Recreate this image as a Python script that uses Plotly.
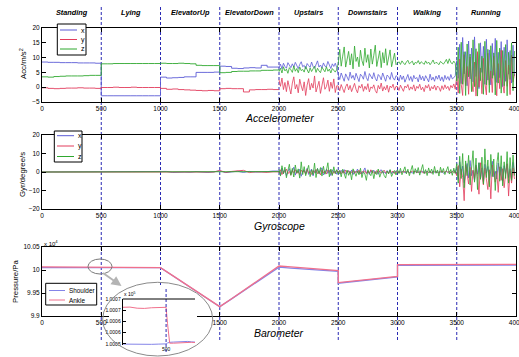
import numpy as np
import plotly.graph_objects as go

W, H = 519, 357
FONT = "Liberation Sans, Arial, sans-serif"

# ---------------- categories / axes ----------------
ACTIVITIES = ["Standing", "Lying", "ElevatorUp", "ElevatorDown",
              "Upstairs", "Downstairs", "Walking", "Running"]
SEG_LEN = 500
BOUNDARIES = [500, 1000, 1500, 2000, 2500, 3000, 3500]
X_TICKS = [0, 500, 1000, 1500, 2000, 2500, 3000, 3500, 4000]
ACC_TICKS = [-5, 0, 5, 10, 15, 20]
GYR_TICKS = [-20, -10, 0, 10, 20]
BARO_TICKS = [9.9, 9.95, 10.0, 10.05]
BARO_TICKTEXT = ["9.9", "9.95", "10", "10.05"]

# ---------------- accelerometer, static part (0-2000, every 50 samples) ----------------
STATIC_STEP = 50
ACC_X_STATIC = [8.5, 8.4, 8.4, 8.3, 8.3, 8.3, 8.2, 8.2, 8.2, 8.1,
                -2.9, -2.9, -2.9, -2.9, -2.9, -2.9, -2.9, -2.9, -2.9, -2.9,
                3.4, 3.1, 3.2, 3.3, 3.5, 3.5, 5.0, 5.0, 5.0, 5.1,
                7.1, 7.0, 6.4, 6.3, 6.5, 6.6, 6.5, 7.4, 6.8, 6.8]
ACC_Y_STATIC = [-0.2, -0.4, -0.5, -0.4, -0.3, -0.3, -0.2, -0.3, -0.3, -0.4,
                -0.1, -0.1, 0.0, -0.1, -0.1, 0.0, -0.1, -0.1, -0.1, -0.1,
                -0.4, -0.7, -0.6, -0.8, -0.9, -1.0, -1.1, -1.2, -1.1, -1.2,
                -0.5, -0.4, -0.5, -0.5, -1.6, -0.9, -0.8, -0.8, -0.7, -0.8]
ACC_Z_STATIC = [3.5, 3.4, 3.6, 3.7, 3.8, 3.8, 3.8, 3.9, 4.0, 4.0,
                7.9, 7.9, 8.0, 8.0, 8.0, 8.0, 8.0, 8.0, 8.0, 8.0,
                8.1, 8.0, 8.0, 8.1, 8.0, 7.9, 7.4, 7.3, 7.3, 7.3,
                4.9, 5.0, 5.3, 5.4, 5.4, 5.5, 5.5, 5.7, 5.7, 5.8]

# ---------------- accelerometer, dynamic part (2000-4000, every 12.5 samples) ----------------
DYN_STEP = 12.5
ACC_X_UP = [6.5, 7.8, 6.2, 8.1, 7.0, 6.4, 8.3, 7.2, 6.6, 7.9, 6.8, 8.4, 7.1, 6.3, 7.7, 8.6, 6.9, 7.4, 6.2, 8.0,
            7.3, 6.7, 8.5, 7.0, 6.4, 7.8, 8.9, 6.8, 7.5, 6.5, 8.2, 7.1, 6.9, 8.7, 7.4, 6.3, 7.9, 7.0, 8.1, 6.6]
ACC_Y_UP = [2.5, 0.3, 3.1, -0.8, 1.6, -1.5, 2.2, 0.1, -2.3, 1.4, 3.5, -0.6, 0.9, -1.9, 2.7, 0.4, -1.2, 1.8, -2.8, 0.7,
            2.9, -0.9, 1.3, -0.3, 3.8, -1.6, 0.6, 2.0, -2.1, 1.1, 3.2, -0.7, 0.2, 2.4, -1.4, 1.7, -0.4, 2.8, -1.8, 0.5]
ACC_Z_UP = [5.2, 6.4, 4.8, 6.9, 5.5, 6.1, 4.7, 6.6, 5.9, 5.0, 7.2, 5.4, 6.3, 4.9, 6.8, 5.6, 6.0, 5.1, 7.0, 5.7,
            4.8, 6.5, 5.3, 6.2, 7.1, 5.0, 6.4, 5.5, 4.9, 6.7, 5.8, 5.2, 6.9, 5.4, 6.1, 4.8, 6.3, 5.7, 5.1, 6.0]
ACC_X_DOWN = [4.2, 2.6, 4.8, 3.1, 2.0, 4.5, 3.6, 2.3, 5.1, 3.0, 4.0, 2.4, 4.7, 3.3, 1.9, 4.4, 3.8, 2.7, 5.3, 3.2,
              2.2, 4.6, 3.5, 2.8, 4.9, 3.0, 2.1, 4.3, 3.7, 2.5, 4.8, 3.4, 2.0, 4.1, 3.6, 2.6, 5.0, 3.1, 2.4, 3.9]
ACC_Y_DOWN = [0.4, -1.2, 0.9, -0.5, -1.8, 0.2, 1.1, -0.9, 0.6, -1.5, 0.0, 1.3, -0.7, -1.9, 0.5, -0.3, 1.0, -1.4, 0.3, -0.8,
              1.2, -1.6, 0.1, -0.4, 0.8, -1.1, -2.0, 0.6, -0.6, 1.4, -1.3, 0.2, -0.9, 0.7, -1.7, 0.4, -0.2, 1.0, -1.0, 0.3]
ACC_Z_DOWN = [8.0, 12.8, 7.1, 10.5, 13.6, 6.8, 9.4, 12.1, 7.5, 11.3, 6.2, 13.9, 8.7, 10.2, 6.9, 12.5, 9.0, 7.3, 13.2, 8.4,
              11.0, 6.5, 12.9, 7.8, 10.8, 14.2, 7.0, 9.6, 12.3, 6.6, 11.7, 8.2, 13.0, 7.4, 10.1, 12.6, 6.9, 9.8, 11.5, 7.6]
ACC_X_WALK = [3.5, 2.0, 4.1, 2.6, 3.8, 1.7, 3.2, 4.3, 2.3, 3.6, 1.9, 4.0, 2.8, 3.3, 1.8, 4.2, 2.5, 3.7, 2.1, 3.9,
              2.9, 1.8, 4.4, 2.4, 3.4, 2.0, 3.8, 2.7, 4.1, 2.2, 3.5, 1.9, 4.0, 2.6, 3.6, 2.3, 4.3, 2.8, 3.2, 3.9]
ACC_Y_WALK = [0.2, -1.1, 0.7, -0.5, -1.4, 0.4, -0.2, 0.9, -1.0, 0.1, -0.7, 0.8, -1.3, 0.3, -0.4, 1.0, -0.9, 0.0, -1.5, 0.6,
              -0.3, 0.9, -1.2, 0.2, -0.6, 0.7, -1.0, 0.4, -0.1, -1.4, 0.5, -0.8, 0.8, -0.5, 0.3, -1.1, 0.6, -0.2, 1.1, -0.7]
ACC_Z_WALK = [8.0, 8.6, 7.7, 8.9, 8.2, 7.6, 8.5, 9.1, 7.9, 8.3, 8.8, 7.5, 8.4, 8.1, 9.0, 7.8, 8.6, 8.2, 7.7, 8.9,
              8.0, 8.5, 7.6, 8.3, 9.2, 7.9, 8.4, 8.1, 7.6, 8.7, 8.2, 7.8, 8.5, 9.4, 8.0, 9.6, 8.3, 7.9, 8.8, 8.1]
ACC_X_RUN = [9.0, 3.0, 14.5, 1.2, 16.8, 4.5, 12.0, 0.5, 15.6, 2.8, 13.2, 1.8, 17.0, 3.6, 11.5, -0.5, 15.0, 5.0, 13.8, 1.0,
             16.2, 2.4, 12.6, 0.8, 14.8, 4.0, 16.5, 1.6, 11.8, 3.2, 15.4, 0.2, 13.5, 2.0, 16.0, 4.4, 12.4, 1.4, 14.2, 3.8]
ACC_Y_RUN = [4.0, -2.0, 9.5, 1.0, -2.8, 11.0, 0.5, 7.0, -2.4, 10.2, 2.0, -1.5, 8.5, -3.0, 12.0, 0.0, 6.5, -2.2, 9.8, 1.5,
             -2.6, 11.5, 0.8, 5.5, -1.8, 10.5, 2.5, -2.9, 8.0, -0.5, 12.5, 1.2, -2.0, 9.0, 0.3, 7.5, -2.5, 10.8, 1.8, 4.5]
ACC_Z_RUN = [2.0, 13.5, -2.1, 15.2, 1.0, 12.0, -2.8, 14.6, 3.5, 11.2, -1.5, 16.0, 0.2, 13.0, -3.0, 14.8, 2.2, 10.5, -2.4, 15.5,
             0.8, 12.8, -1.8, 14.0, 3.0, 11.6, -2.6, 15.8, 1.4, 13.2, -2.0, 12.4, 0.5, 14.4, -2.9, 11.8, 2.6, 15.0, -1.2, 12.2]

# ---------------- gyroscope ----------------
GYR_X_STATIC = [0.0] * 20 + [0.0, 0.3, -0.2, 0.1, 0.0, -0.1, 0.2, 0.0, -0.2, 0.1,
                             0.6, -0.3, 0.2, 0.4, -0.2, 0.3, 0.0, -0.1, 0.2, 0.5]
GYR_Y_STATIC = [0.0] * 20 + [0.0, -0.1, 0.1, 0.0, 0.1, -0.1, 0.0, 0.1, -0.1, 0.0,
                             0.8, -0.2, 0.3, 0.6, 0.9, -0.3, 0.1, 0.0, -0.2, 0.1]
GYR_Z_STATIC = [0.0] * 20 + [0.0, 0.1, 0.0, 0.0, -0.1, 0.0, 0.1, 0.0, 0.0, 0.1,
                             0.0, 0.2, 0.1, -0.1, 0.2, 0.0, 0.1, 0.0, 0.3, 0.2]
GYR_X_UP = [0.8, -1.5, 2.1, -0.6, 1.2, -2.0, 0.4, 1.8, -1.1, 0.2, 2.6, -1.7, 0.9, -0.4, 1.5, -2.3, 0.6, 1.1, -0.9, 2.0,
            -1.3, 0.3, 1.6, -2.1, 0.7, -0.5, 1.9, -1.0, 0.5, 2.3, -1.6, 0.1, 1.4, -0.8, 0.9, -1.9, 1.2, -0.3, 0.6, -1.2]
GYR_Y_UP = [-0.5, 1.2, -1.4, 0.6, -0.2, 1.6, -1.0, 0.3, -1.7, 0.9, -0.4, 1.3, -0.8, 0.5, -1.5, 1.0, -0.1, 0.7, -1.2, 1.5,
            -0.6, 0.2, -1.3, 0.8, -0.3, 1.4, -0.9, 0.4, -1.6, 1.1, -0.5, 0.6, -1.1, 1.2, -0.2, 0.9, -1.4, 0.3, -0.7, 1.0]
GYR_Z_UP = [1.5, -2.2, 3.4, -1.0, 2.6, -3.1, 0.8, 4.2, -1.8, 2.0, -2.7, 3.8, -0.6, 1.7, -3.3, 5.5, -1.4, 2.9, -2.0, 0.5,
            3.6, -2.5, 1.2, -1.5, 4.8, -3.0, 1.9, -0.8, 2.4, -2.2, 3.1, -1.2, 0.9, 5.0, -2.6, 1.6, -1.9, 2.8, -0.9, 1.3]
GYR_X_DOWN = [0.6, -1.0, 0.9, -0.4, 1.3, -1.2, 0.2, 0.8, -0.7, 1.1, -1.4, 0.5, -0.2, 1.6, -0.9, 0.3, -1.1, 0.7, 2.2, -0.6,
              0.4, -1.3, 0.9, -0.3, 1.0, -0.8, 0.2, -1.2, 0.6, 1.2, -0.5, 0.1, -0.9, 0.8, -0.4, 1.1, -1.0, 0.3, -0.6, 0.7]
GYR_Y_DOWN = [-0.4, 0.8, -1.0, 0.5, -0.7, 1.1, -0.3, 0.6, -1.2, 0.2, 0.9, -0.8, 0.4, -0.5, 1.0, -1.1, 0.3, -0.2, 0.7, -0.9,
              0.5, -0.6, 1.2, -0.4, 0.1, -1.0, 0.8, -0.3, 0.6, -0.7, 0.2, 1.0, -0.5, 0.4, -0.9, 0.7, -0.2, 0.5, -0.8, 0.3]
GYR_Z_DOWN = [-1.2, 0.8, -2.6, 1.5, -0.5, -3.4, 1.0, -1.8, 0.4, -4.2, 1.7, -0.9, -2.3, 0.6, -1.5, 2.0, -3.0, 0.2, -1.1, -4.5,
              1.2, -0.7, -2.0, 0.9, -3.6, 0.3, -1.4, 1.6, -2.8, -0.4, 0.7, -1.9, -3.2, 0.5, -1.0, 1.3, -2.4, -0.6, 0.8, -1.6]
GYR_X_WALK = [0.3, -0.6, 0.5, -0.2, 0.7, -0.5, 0.1, 0.6, -0.4, 0.2, -0.7, 0.4, -0.1, 0.8, -0.5, 0.3, -0.3, 0.6, -0.6, 0.2,
              0.5, -0.4, 0.1, -0.6, 0.7, -0.2, 0.4, -0.5, 0.3, -0.1, 0.6, -0.7, 0.2, 0.5, -0.3, 0.4, -0.6, 0.1, 0.8, -0.4]
GYR_Y_WALK = [-0.3, 0.4, -0.6, 0.2, -0.1, 0.5, -0.4, 0.3, -0.7, 0.1, 0.6, -0.2, 0.4, -0.5, 0.2, -0.3, 0.7, -0.4, 0.1, -0.6,
              0.3, -0.2, 0.5, -0.5, 0.2, 0.4, -0.3, 0.1, -0.6, 0.5, -0.1, 0.3, -0.4, 0.6, -0.2, 0.2, -0.5, 0.4, -0.3, 0.1]
GYR_Z_WALK = [1.2, -0.8, 2.0, -1.5, 0.6, 2.8, -1.0, 1.5, -2.0, 0.9, 3.5, -1.2, 1.8, -0.5, 2.4, -1.7, 0.7, 4.0, -0.9, 1.3,
              -1.9, 2.2, -0.6, 1.6, -1.3, 3.0, -0.7, 1.1, -2.2, 2.6, -0.4, 1.9, -1.4, 0.8, 2.9, -1.1, 1.4, -1.8, 2.1, -0.8]
GYR_X_RUN = [2.5, -4.0, 5.5, -1.5, 3.2, -5.8, 1.0, 4.6, -3.2, 6.2, -2.0, 0.8, -4.8, 3.8, -1.2, 5.0, -3.6, 2.2, -5.2, 4.2,
             -0.6, 3.0, -4.4, 1.6, 5.8, -2.6, 0.4, -3.8, 4.8, -1.8, 2.8, -5.0, 3.4, -0.9, 4.4, -3.0, 1.8, -4.2, 5.2, -1.4]
GYR_Y_RUN = [-2.0, 3.5, -8.0, 1.5, -3.0, -15.5, 4.0, -1.0, -6.5, 2.5, -10.5, 1.0, -4.0, 3.0, -2.5, -12.0, 5.0, -1.5, -7.0, 2.0,
             -3.5, -9.5, 1.2, -14.5, 3.8, -2.2, -5.5, 0.5, -11.0, 2.8, -4.5, 1.8, -8.5, -1.0, 4.5, -13.0, 0.8, -6.0, 2.2, -3.8]
GYR_Z_RUN = [4.5, -6.0, 8.5, -3.5, 10.0, -8.5, 6.0, -2.0, 9.0, -7.0, 3.0, 11.5, -5.5, 7.5, -9.5, 5.0, -4.0, 8.0, -6.5, 12.5,
             -3.0, 6.5, -8.0, 9.5, -2.5, 7.0, -10.0, 4.0, 10.5, -5.0, 8.8, -7.5, 5.5, -3.5, 11.0, -6.0, 7.8, -4.5, 9.2, -2.0]

# ---------------- barometer (x 10^4 Pa) ----------------
BARO_T = [0, 100, 200, 300, 400, 500, 500, 600, 700, 800, 900, 1000, 1100, 1200, 1300, 1400, 1500,
          1600, 1700, 1800, 1900, 2000, 2100, 2200, 2300, 2400, 2500, 2500, 2600, 2700, 2800, 2900,
          3000, 3000, 3100, 3200, 3300, 3400, 3500, 3600, 3700, 3800, 3900, 4000]
BARO_SHOULDER = [10.0050, 10.0050, 10.0049, 10.0050, 10.0050, 10.0050, 10.0051, 10.0051, 10.0052, 10.0052,
                 10.0051, 10.0052, 9.9882, 9.9712, 9.9543, 9.9373, 9.9200, 9.9372, 9.9545, 9.9718, 9.9890,
                 10.0062, 10.0042, 10.0024, 10.0006, 9.9988, 9.9972, 9.9712, 9.9740, 9.9768, 9.9795, 9.9822,
                 9.9848, 10.0102, 10.0104, 10.0106, 10.0108, 10.0109, 10.0110, 10.0110, 10.0109, 10.0108,
                 10.0107, 10.0106]
BARO_ANKLE = [10.0066, 10.0066, 10.0065, 10.0066, 10.0066, 10.0066, 10.0051, 10.0051, 10.0052, 10.0052,
              10.0052, 10.0052, 9.9884, 9.9714, 9.9545, 9.9375, 9.9203, 9.9376, 9.9550, 9.9724, 9.9897,
              10.0086, 10.0066, 10.0046, 10.0026, 10.0006, 9.9987, 9.9727, 9.9754, 9.9781, 9.9808, 9.9834,
              9.9860, 10.0118, 10.0120, 10.0122, 10.0124, 10.0125, 10.0127, 10.0127, 10.0126, 10.0125,
              10.0124, 10.0123]

# inset (x 10^5 Pa)
INSET_T = [440, 450, 460, 470, 480, 490, 500, 502, 505, 510, 515, 520, 525, 530, 535, 540]
INSET_SHOULDER = [1.000499, 1.000498, 1.000497, 1.000497, 1.000498, 1.000499, 1.000500, 1.000504,
                  1.000507, 1.000508, 1.000509, 1.000511, 1.000513, 1.000511, 1.000509, 1.000508]
INSET_ANKLE = [1.000663, 1.000664, 1.000659, 1.000658, 1.000661, 1.000663, 1.000663, 1.000590,
               1.000503, 1.000503, 1.000504, 1.000505, 1.000507, 1.000508, 1.000507, 1.000506]
INSET_TICKS = [1.0005, 1.00055, 1.0006, 1.00065, 1.0007]
INSET_TICKTEXT = ["1.0005", "1.0006", "1.0006", "1.0007", "1.0007"]
INSET_XTICKS = [500]

# ---------------- styles ----------------
C_X, C_Y, C_Z = "#5b5bd6", "#e23c5c", "#2fa82f"
C_SH, C_AN = "#8484e8", "#f0708c"
C_DASH = "#2a2ab4"


def px(x):
    return x / W


def py(y):
    return 1 - y / H


t_static = np.arange(0, 2001, STATIC_STEP)
t_dyn = 2000 + np.arange(4 * 40) * DYN_STEP

fig = go.Figure()


def add_sensor(static_lists, dyn_lists, xa, ya, shape_static):
    for s, c in zip(static_lists, [C_X, C_Y, C_Z]):
        fig.add_trace(go.Scatter(x=t_static, y=list(s) + [s[-1]], mode="lines",
                                 line=dict(color=c, width=0.9, shape=shape_static),
                                 xaxis=xa, yaxis=ya, showlegend=False, hoverinfo="skip"))
    for d, c in zip(dyn_lists, [C_X, C_Y, C_Z]):
        fig.add_trace(go.Scatter(x=t_dyn, y=d, mode="lines", line=dict(color=c, width=0.8),
                                 xaxis=xa, yaxis=ya, showlegend=False, hoverinfo="skip"))


add_sensor([ACC_X_STATIC, ACC_Y_STATIC, ACC_Z_STATIC],
           [ACC_X_UP + ACC_X_DOWN + ACC_X_WALK + ACC_X_RUN,
            ACC_Y_UP + ACC_Y_DOWN + ACC_Y_WALK + ACC_Y_RUN,
            ACC_Z_UP + ACC_Z_DOWN + ACC_Z_WALK + ACC_Z_RUN], "x", "y", "hv")
add_sensor([GYR_X_STATIC, GYR_Y_STATIC, GYR_Z_STATIC],
           [GYR_X_UP + GYR_X_DOWN + GYR_X_WALK + GYR_X_RUN,
            GYR_Y_UP + GYR_Y_DOWN + GYR_Y_WALK + GYR_Y_RUN,
            GYR_Z_UP + GYR_Z_DOWN + GYR_Z_WALK + GYR_Z_RUN], "x2", "y2", "linear")

fig.add_trace(go.Scatter(x=BARO_T, y=BARO_SHOULDER, mode="lines", line=dict(color=C_SH, width=1.3),
                         xaxis="x3", yaxis="y3", showlegend=False, hoverinfo="skip"))
fig.add_trace(go.Scatter(x=BARO_T, y=BARO_ANKLE, mode="lines", line=dict(color=C_AN, width=1.3),
                         xaxis="x3", yaxis="y3", showlegend=False, hoverinfo="skip"))

# white occluder behind the inset (pixel overlay axes)
fig.add_trace(go.Scatter(x=[109, 109, 181, 181, 197, 197, 109], y=[347, 285, 285, 297, 297, 347, 347],
                         mode="lines", fill="toself", fillcolor="white", line=dict(width=0, color="white"),
                         xaxis="x4", yaxis="y4", showlegend=False, hoverinfo="skip"))

# inset traces
fig.add_trace(go.Scatter(x=INSET_T, y=INSET_SHOULDER, mode="lines", line=dict(color=C_SH, width=1),
                         xaxis="x5", yaxis="y5", showlegend=False, hoverinfo="skip"))
fig.add_trace(go.Scatter(x=INSET_T, y=INSET_ANKLE, mode="lines", line=dict(color=C_AN, width=1),
                         xaxis="x5", yaxis="y5", showlegend=False, hoverinfo="skip"))

XDOM = [px(42), px(516)]
tickfont = dict(family=FONT, size=6.5, color="black")
xcommon = dict(domain=XDOM, range=[0, 4000], tickvals=X_TICKS, showline=True, linecolor="black",
               linewidth=1.4, mirror="ticks", ticks="inside", ticklen=4, tickcolor="black",
               showgrid=False, zeroline=False, tickfont=tickfont, ticklabeloverflow="allow",
               automargin=False)
ycommon = dict(showline=True, linecolor="black", linewidth=1, mirror="ticks", ticks="inside",
               ticklen=4, tickcolor="black", showgrid=False, zeroline=False, tickfont=tickfont,
               automargin=False)

fig.update_layout(
    width=W, height=H, autosize=False,
    margin=dict(l=0, r=0, t=0, b=0, pad=0, autoexpand=False),
    paper_bgcolor="white", plot_bgcolor="rgba(0,0,0,0)",
    font=dict(family=FONT, color="black"),
    showlegend=False,
    xaxis=dict(anchor="y", **xcommon),
    xaxis2=dict(anchor="y2", **xcommon),
    xaxis3=dict(anchor="y3", **xcommon),
    yaxis=dict(anchor="x", domain=[py(102), py(28)], range=[-5, 20], tickvals=ACC_TICKS, **ycommon),
    yaxis2=dict(anchor="x2", domain=[py(209), py(135)], range=[-20, 20], tickvals=GYR_TICKS, **ycommon),
    yaxis3=dict(anchor="x3", domain=[py(316), py(247)], range=[9.9, 10.05], tickvals=BARO_TICKS,
                ticktext=BARO_TICKTEXT, **ycommon),
    xaxis4=dict(anchor="y4", domain=[0, 1], range=[0, W], visible=False),
    yaxis4=dict(anchor="x4", domain=[0, 1], range=[H, 0], visible=False),
    xaxis5=dict(anchor="y5", domain=[px(122.7), px(195)], range=[440, 540], tickvals=INSET_XTICKS,
                showline=False, ticks="", showgrid=False, zeroline=False, automargin=False,
                tickfont=dict(family=FONT, size=5, color="black")),
    yaxis5=dict(anchor="x5", domain=[py(345), py(299)], range=[1.000495, 1.0007], tickvals=INSET_TICKS,
                ticktext=INSET_TICKTEXT, showline=True, linecolor="black", linewidth=1, ticks="inside",
                ticklen=3, tickcolor="black", showgrid=False, zeroline=False, automargin=False,
                tickfont=dict(family=FONT, size=5, color="black")),
)

shapes = []
# activity boundaries
for b in BOUNDARIES:
    shapes.append(dict(type="line", xref="x", yref="paper", x0=b, x1=b, y0=py(340), y1=py(5),
                       line=dict(color=C_DASH, width=1, dash="3px,2px"), layer="below"))
# inset boundary at 500
shapes.append(dict(type="line", xref="x5", yref="paper", x0=500, x1=500, y0=py(352), y1=py(287),
                   line=dict(color=C_DASH, width=1, dash="3px,2px"), layer="above"))
# inset top line
shapes.append(dict(type="line", xref="paper", yref="paper", x0=px(122.7), x1=px(195), y0=py(299), y1=py(299),
                   line=dict(color="black", width=1), layer="above"))
# ellipses
shapes.append(dict(type="circle", xref="paper", yref="paper", x0=px(102.7), x1=px(212.7), y0=py(356),
                   y1=py(282.3), line=dict(color="#8a8a8a", width=1), layer="above"))
shapes.append(dict(type="circle", xref="paper", yref="paper", x0=px(88), x1=px(112), y0=py(274),
                   y1=py(259), line=dict(color="#7a7a7a", width=1), layer="above"))

annotations = []


def legend(box, entries, line_x, text_x, size):
    x0, y0, x1, y1 = box
    shapes.append(dict(type="rect", xref="paper", yref="paper", x0=px(x0), x1=px(x1), y0=py(y1), y1=py(y0),
                       line=dict(color="black", width=1), fillcolor="white", layer="above"))
    for label, color, yy in entries:
        shapes.append(dict(type="line", xref="paper", yref="paper", x0=px(line_x[0]), x1=px(line_x[1]),
                           y0=py(yy), y1=py(yy), line=dict(color=color, width=1), layer="above"))
        annotations.append(dict(xref="paper", yref="paper", x=px(text_x), y=py(yy), text=label,
                                showarrow=False, xanchor="left", yanchor="middle",
                                font=dict(family=FONT, size=size, color="black")))


legend((57.3, 24, 86, 55), [("x", C_X, 30), ("y", C_Y, 39.5), ("z", C_Z, 49)], (60, 77), 79, 7)
legend((54.3, 131, 82, 162), [("x", C_X, 135.7), ("y", C_Y, 146), ("z", C_Z, 156.5)], (57, 74), 76, 7)
legend((45.7, 283.3, 96.7, 305), [("Shoulder", C_SH, 290.5), ("Ankle", C_AN, 300)], (49, 65), 66.5, 6.4)

# activity labels
for i, name in enumerate(ACTIVITIES):
    annotations.append(dict(xref="x", yref="paper", x=i * SEG_LEN + SEG_LEN / 2, y=py(13),
                            text=f"<b><i>{name}</i></b>", showarrow=False, xanchor="center",
                            yanchor="middle", font=dict(family=FONT, size=7.3, color="black")))

# subplot titles
for txt, yy in [("Accelerometer", 118), ("Gyroscope", 226), ("Barometer", 333)]:
    annotations.append(dict(xref="paper", yref="paper", x=px(279), y=py(yy), text=f"<i>{txt}</i>",
                            showarrow=False, xanchor="center", yanchor="middle",
                            font=dict(family=FONT, size=10.5, color="black")))

# y titles
for txt, xx, yy in [("Acc/m/s<sup>2</sup>", 23, 64), ("Gyr/degree/s", 22, 175), ("Pressure/Pa", 15, 281)]:
    annotations.append(dict(xref="paper", yref="paper", x=px(xx), y=py(yy), text=txt, textangle=-90,
                            showarrow=False, xanchor="center", yanchor="middle",
                            font=dict(family=FONT, size=7.8, color="black")))

# multipliers
annotations.append(dict(xref="paper", yref="paper", x=px(41.5), y=py(243), text="x 10<sup>4</sup>",
                        showarrow=False, xanchor="left", yanchor="middle",
                        font=dict(family=FONT, size=6, color="black")))
annotations.append(dict(xref="paper", yref="paper", x=px(121.5), y=py(294), text="x 10<sup>5</sup>",
                        showarrow=False, xanchor="left", yanchor="middle",
                        font=dict(family=FONT, size=5, color="black")))

# zoom arrow
annotations.append(dict(xref="paper", yref="paper", x=px(121.5), y=py(286), ax=-20, ay=-14, text="",
                        showarrow=True, arrowhead=2, arrowsize=1, arrowwidth=2, arrowcolor="#b4b4b4"))

fig.update_layout(shapes=shapes, annotations=annotations)
fig.write_html("out.html", config={"displayModeBar": False, "responsive": False},
               post_script="document.body.style.margin='0px';")
